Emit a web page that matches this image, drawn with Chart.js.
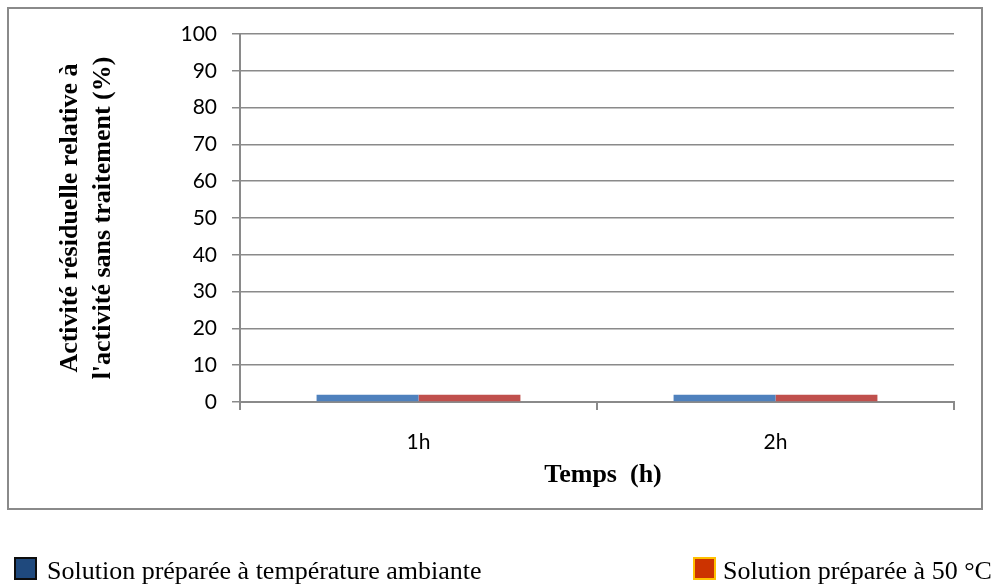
<!DOCTYPE html>
<html>
<head>
<meta charset="utf-8">
<script src="https://cdn.jsdelivr.net/npm/chart.js@4"></script>
<style>
  html, body { margin: 0; padding: 0; background: #fff; }
  #wrap { width: 992px; height: 588px; position: relative; }
</style>
</head>
<body>
<div id="wrap"><canvas id="c" width="992" height="588"></canvas></div>
<script>
// Durée de traitement
const categories = ['1h', '2h'];
// Activité résiduelle (%)
const ambiante = [2, 2];
const cinquante = [2, 2];
const seriesNames = ['Solution préparée à température ambiante', 'Solution préparée à 50 °C'];
const yTitle = ['Activité résiduelle relative à', "l'activité sans traitement (%)"];
const xTitle = 'Temps  (h)';

const tickFont = { family: 'Lato', size: 21 };

// Cadre, titres des axes et légende dessinés sur le canevas
const decor = {
  id: 'decor',
  afterDraw(chart) {
    const ctx = chart.ctx;
    const a = chart.chartArea;
    ctx.save();
    // cadre du graphique
    ctx.strokeStyle = '#8a8a8a';
    ctx.lineWidth = 2;
    ctx.strokeRect(8, 8, 974, 501);

    // titre de l'axe vertical
    ctx.fillStyle = '#000';
    ctx.font = 'bold 26px "Liberation Serif"';
    ctx.textAlign = 'center';
    ctx.textBaseline = 'middle';
    const cy = (a.top + a.bottom) / 2;
    ctx.save();
    ctx.translate(70, cy);
    ctx.rotate(-Math.PI / 2);
    ctx.fillText(yTitle[0], 0, 0);
    ctx.restore();
    ctx.save();
    ctx.translate(103, cy);
    ctx.rotate(-Math.PI / 2);
    ctx.fillText(yTitle[1], 0, 0);
    ctx.restore();

    // titre de l'axe horizontal
    ctx.fillText(xTitle, (a.left + a.right) / 2 + 6, 475);

    // légende
    ctx.textAlign = 'left';
    ctx.textBaseline = 'alphabetic';
    ctx.font = '26px "Liberation Serif"';
    ctx.fillStyle = '#1f497d';
    ctx.fillRect(15, 558, 21, 21);
    ctx.strokeStyle = '#0d0d0d';
    ctx.lineWidth = 2;
    ctx.strokeRect(15, 558, 21, 21);
    ctx.fillStyle = '#000';
    ctx.fillText(seriesNames[0], 47, 579);

    ctx.fillStyle = '#cc3300';
    ctx.fillRect(694, 558, 21, 21);
    ctx.strokeStyle = '#ffc000';
    ctx.strokeRect(694, 558, 21, 21);
    ctx.fillStyle = '#000';
    ctx.fillText(seriesNames[1], 723, 579);
    ctx.restore();
  }
};

new Chart(document.getElementById('c'), {
  type: 'bar',
  data: {
    labels: categories,
    datasets: [
      { label: seriesNames[0], data: ambiante, backgroundColor: '#4f81bd', borderWidth: 0 },
      { label: seriesNames[1], data: cinquante, backgroundColor: '#c0504d', borderWidth: 0 }
    ]
  },
  options: {
    responsive: false,
    animation: false,
    devicePixelRatio: 1,
    layout: { padding: { left: 40, right: 38, top: 34, bottom: 136 } },
    datasets: { bar: { categoryPercentage: 0.571, barPercentage: 1 } },
    plugins: { legend: { display: false }, tooltip: { enabled: false } },
    scales: {
      x: {
        afterFit(s) { s.height = 50; },
        grid: { offset: true, drawOnChartArea: false, drawTicks: true, tickLength: 8, color: '#8a8a8a', lineWidth: 2 },
        border: { display: true, color: '#8a8a8a', width: 2 },
        ticks: { font: tickFont, color: '#000', padding: 20 }
      },
      y: {
        min: 0, max: 100,
        afterFit(s) { s.width = 200; },
        grid: { color: '#8a8a8a', lineWidth: 1.5, tickLength: 8 },
        border: { display: true, color: '#8a8a8a', width: 2 },
        ticks: { stepSize: 10, font: tickFont, color: '#000', padding: 15 }
      }
    }
  },
  plugins: [decor]
});
</script>
</body>
</html>
